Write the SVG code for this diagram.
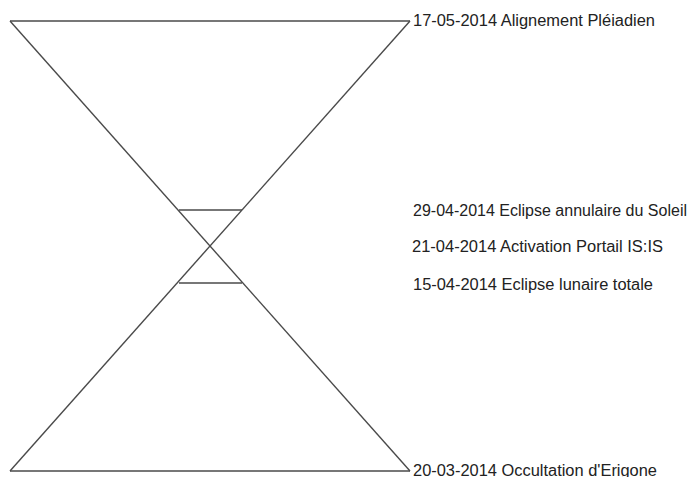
<svg xmlns="http://www.w3.org/2000/svg" width="695" height="477" viewBox="0 0 695 477">
<style>
.ln{stroke:#4a4a4a;stroke-width:1.4;fill:none}
.t{font-family:"Liberation Sans",Arial,sans-serif;font-size:16px;fill:#222}
</style>
<rect width="695" height="477" fill="#fff"/>
<g id="hourglass">
<line class="ln" x1="10" y1="21" x2="410" y2="21"/>
<line class="ln" x1="10" y1="471" x2="410" y2="471"/>
<line class="ln" x1="10" y1="21" x2="410" y2="471"/>
<line class="ln" x1="410" y1="21" x2="10" y2="471"/>
<line class="ln" x1="179" y1="210" x2="242" y2="210"/>
<line class="ln" x1="179" y1="283" x2="242" y2="283"/>
</g>
<g id="labels">
<text class="t" x="413" y="26" textLength="242" lengthAdjust="spacingAndGlyphs">17-05-2014 Alignement Pléiadien</text>
<text class="t" x="413" y="216" textLength="274" lengthAdjust="spacingAndGlyphs">29-04-2014 Eclipse annulaire du Soleil</text>
<text class="t" x="412" y="252" textLength="251" lengthAdjust="spacingAndGlyphs">21-04-2014 Activation Portail IS:IS</text>
<text class="t" x="413" y="290" textLength="240" lengthAdjust="spacingAndGlyphs">15-04-2014 Eclipse lunaire totale</text>
<text class="t" x="413" y="476" textLength="244" lengthAdjust="spacingAndGlyphs">20-03-2014 Occultation d'Erigone</text>
</g>
</svg>
